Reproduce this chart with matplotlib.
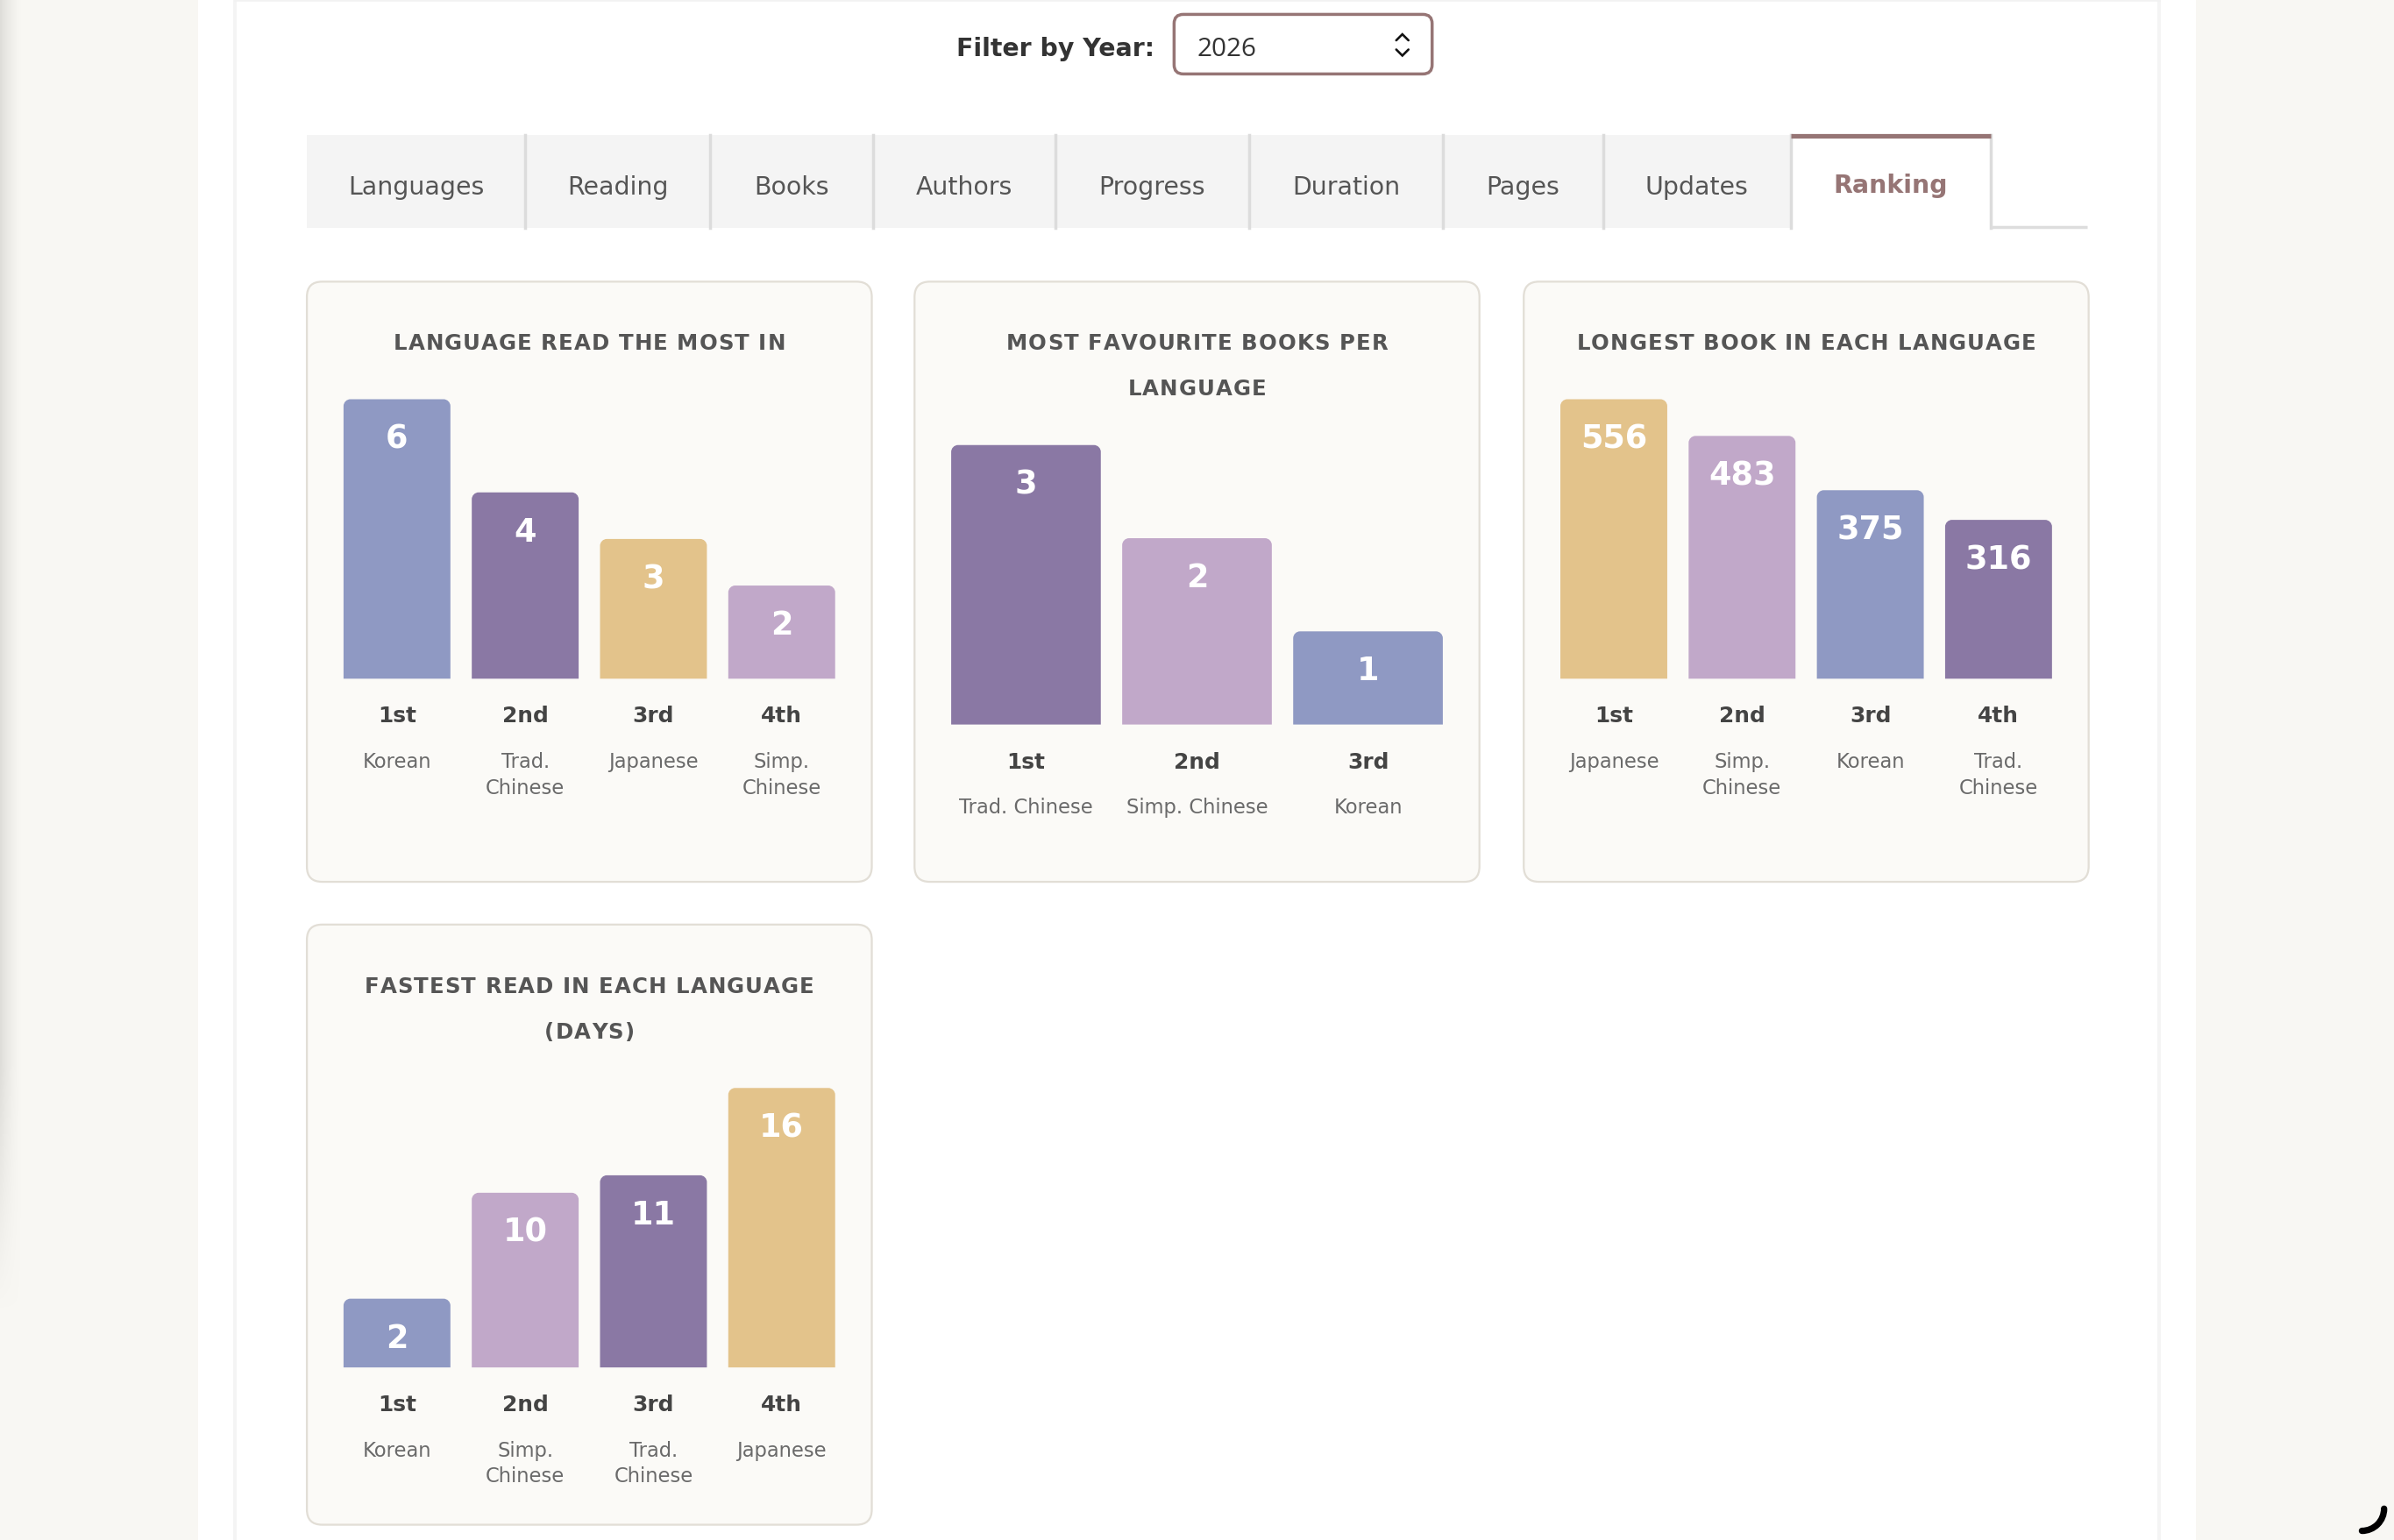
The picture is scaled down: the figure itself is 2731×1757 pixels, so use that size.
import textwrap
import numpy as np
import matplotlib
matplotlib.use("Agg")
import matplotlib.pyplot as plt
from matplotlib.patches import FancyBboxPatch, Rectangle, PathPatch, Arc
from matplotlib.path import Path
from matplotlib.font_manager import findfont, FontProperties

# ------------------------------------------------------------------ data
YEAR = "2026"
TABS = ["Languages", "Reading", "Books", "Authors", "Progress",
        "Duration", "Pages", "Updates", "Ranking"]
ACTIVE_TAB = "Ranking"
RANKS = ["1st", "2nd", "3rd", "4th"]

t1_title = "LANGUAGE READ THE MOST IN"
t1_langs = ["Korean", "Trad. Chinese", "Japanese", "Simp. Chinese"]
t1_values = [6, 4, 3, 2]

t2_title = "MOST FAVOURITE BOOKS PER LANGUAGE"
t2_langs = ["Trad. Chinese", "Simp. Chinese", "Korean"]
t2_values = [3, 2, 1]

t3_title = "LONGEST BOOK IN EACH LANGUAGE"
t3_langs = ["Japanese", "Simp. Chinese", "Korean", "Trad. Chinese"]
t3_values = [556, 483, 375, 316]

t4_title = "FASTEST READ IN EACH LANGUAGE (DAYS)"
t4_langs = ["Korean", "Simp. Chinese", "Trad. Chinese", "Japanese"]
t4_values = [2, 10, 11, 16]

LANG_COLORS = {"Korean": "#8f99c3", "Trad. Chinese": "#8a78a4",
               "Japanese": "#e3c38b", "Simp. Chinese": "#c1a8c9"}

# ------------------------------------------------------------------ layout
W, H = 1568.0, 1009.0            # layout units (screen px)
OUT_W, OUT_H = 2731, 1758
K = OUT_W / W


def pt(px):
    return px * K * 72.0 / 100.0


PAGE_BG = "#f8f7f3"
PANEL_BG = "#fbfaf7"
PANEL_EDGE = "#e2ded6"
MAUVE = "#967575"

fig = plt.figure(figsize=(OUT_W / 100, OUT_H / 100), dpi=100)
fig.patch.set_facecolor(PAGE_BG)
bg = fig.add_axes([0, 0, 1, 1])
bg.set_xlim(0, W)
bg.set_ylim(H, 0)
bg.axis("off")
bg.set_zorder(0)


def text_c(ax, x, yc, s, fs, cap=0.365, **kw):
    """place text so its cap-height centre sits at yc (layout units, y down)"""
    ax.text(x, yc + cap * fs, s, fontsize=pt(fs), va="baseline", **kw)


# letter-spaced bold text (titles)
try:
    from matplotlib.ft2font import FT2Font
    _bold_font = FT2Font(findfont(FontProperties(family="DejaVu Sans",
                                                 weight="bold")))
except Exception:
    _bold_font = None


def spaced_text(ax, xc, yc, s, fs, spacing, **kw):
    adv = None
    if _bold_font is not None:
        try:
            _bold_font.set_size(fs, 72)
            adv = [_bold_font.load_char(ord(c)).linearHoriAdvance / 65536.0
                   for c in s]
        except Exception:
            adv = None
    if adv is None:
        text_c(ax, xc, yc, s, fs * 1.05, ha="center", fontweight="bold", **kw)
        return
    total = sum(adv) + spacing * (len(s) - 1)
    x = xc - total / 2
    for c, a in zip(s, adv):
        if c != " ":
            text_c(ax, x, yc, c, fs, ha="left", fontweight="bold", **kw)
        x += a + spacing


# page structure
bg.add_patch(Rectangle((130, 0), 1308, H, fc="white", ec="none", zorder=0))
gx = np.linspace(0, 1, 48)
gy = np.clip((860 - np.linspace(0, 860, 200)) / 160, 0, 1)
shade = (1 - gx)[None, :] ** 1.5 * gy[:, None]
rgba = np.zeros((200, 48, 4))
rgba[..., :3] = np.array([0.86, 0.855, 0.84])
rgba[..., 3] = shade * 0.9
bg.imshow(rgba, extent=(0, 14, 860, 0), aspect="auto", zorder=0.5,
          interpolation="bilinear")
bg.set_xlim(0, W)
bg.set_ylim(H, 0)
for xv in (154, 1414):
    bg.plot([xv, xv], [0, H], color="#f4f4f4", lw=pt(2.2), zorder=0.6)
bg.plot([154, 1414], [0.6, 0.6], color="#f2f2f2", lw=pt(1.5), zorder=0.6)

# filter
text_c(bg, 756, 30.5, "Filter by Year:", 16.3, ha="right", color="#333333",
       fontweight="bold")
bg.add_patch(FancyBboxPatch((769, 10), 169, 39,
                            boxstyle="round,pad=0,rounding_size=6",
                            fc="white", ec=MAUVE, lw=pt(2), zorder=2))
text_c(bg, 784, 30.5, YEAR, 17, cap=0.36, ha="left", color="#333333",
       family="Open Sans", zorder=3)
bg.plot([914.5, 918.5, 922.5], [27, 23, 27], color="#111111", lw=pt(1.5),
        solid_capstyle="round", solid_joinstyle="miter", zorder=3)
bg.plot([914.5, 918.5, 922.5], [33, 37, 33], color="#111111", lw=pt(1.5),
        solid_capstyle="round", solid_joinstyle="miter", zorder=3)

# tabs
TAB_EDGES = [201, 344, 465, 572, 691, 818, 945, 1050, 1173, 1304]
TAB_TOP, TAB_BOT = 89, 150
act = TABS.index(ACTIVE_TAB)
bg.add_patch(Rectangle((TAB_EDGES[0], TAB_TOP), TAB_EDGES[act] - TAB_EDGES[0],
                       TAB_BOT - TAB_TOP, fc="#f4f4f4", ec="none", zorder=1))
for e in TAB_EDGES[1:]:
    bg.plot([e, e], [TAB_TOP, TAB_BOT], color="#dcdcdc", lw=pt(2), zorder=1.5)
bg.plot([TAB_EDGES[act], TAB_EDGES[act + 1]], [89.5, 89.5], color=MAUVE,
        lw=pt(3), solid_capstyle="butt", zorder=2)
bg.plot([TAB_EDGES[-1], 1367], [149, 149], color="#dddddd", lw=pt(2),
        solid_capstyle="butt", zorder=1.5)
for i, name in enumerate(TABS):
    cx = (TAB_EDGES[i] + TAB_EDGES[i + 1]) / 2
    if name == ACTIVE_TAB:
        text_c(bg, cx, 120.5, name, 16.3, cap=0.36, ha="center", color=MAUVE,
               fontweight="bold", zorder=3)
    else:
        text_c(bg, cx, 121.5, name, 16.3, cap=0.36, ha="center",
               color="#555555", zorder=3)

# panels
PANEL_W, PANEL_H = 370, 393
PAD = 24
GAP = 14
MAX_BAR = 183
MIN_FRAC = 0.246
panels = [
    (201, 185, t1_title, t1_langs, t1_values),
    (599, 185, t2_title, t2_langs, t2_values),
    (998, 185, t3_title, t3_langs, t3_values),
    (201, 606, t4_title, t4_langs, t4_values),
]


def rounded_top(x0, w, h, rx, ry):
    k = 0.5523
    verts = [(x0, 0), (x0, h - ry), (x0, h - ry + k * ry), (x0 + rx - k * rx, h),
             (x0 + rx, h), (x0 + w - rx, h), (x0 + w - rx + k * rx, h),
             (x0 + w, h - ry + k * ry), (x0 + w, h - ry), (x0 + w, 0), (x0, 0)]
    codes = [Path.MOVETO, Path.LINETO, Path.CURVE4, Path.CURVE4, Path.CURVE4,
             Path.LINETO, Path.CURVE4, Path.CURVE4, Path.CURVE4, Path.LINETO,
             Path.CLOSEPOLY]
    return Path(verts, codes)


for (px, py, title, langs, values) in panels:
    bg.add_patch(FancyBboxPatch((px, py), PANEL_W, PANEL_H,
                                boxstyle="round,pad=0,rounding_size=10",
                                fc=PANEL_BG, ec=PANEL_EDGE, lw=pt(1.3),
                                zorder=1))
    lines = textwrap.wrap(title, 29)
    for li, ln in enumerate(lines):
        spaced_text(bg, px + PANEL_W / 2, py + 39 + 30 * li, ln, 14.0, 0.62,
                    color="#555555", zorder=3)
    baseline = py + 230 + 30 * len(lines)
    n = len(values)
    inner = PANEL_W - 2 * PAD
    pitch = (inner + GAP) / n
    bw = pitch - GAP
    ax = fig.add_axes([(px + PAD) / W, 1 - baseline / H, inner / W, MAX_BAR / H])
    ax.set_zorder(2)
    ax.patch.set_alpha(0)
    ax.axis("off")
    half = bw / pitch / 2
    ax.set_xlim(-half, n - 1 + half)
    vmax = max(values)
    ax.set_ylim(0, vmax)
    heights = np.maximum(np.array(values, float), MIN_FRAC * vmax)
    xs = np.arange(n)
    bars = ax.bar(xs, heights, width=bw / pitch,
                  color=[LANG_COLORS[l] for l in langs], linewidth=0)
    rx = 4.5 * (n - 1 + 2 * half) / inner
    ry = 4.5 * vmax / MAX_BAR
    for b in bars:
        b.set_visible(False)
        ax.add_patch(PathPatch(rounded_top(b.get_x(), b.get_width(),
                                           b.get_height(), rx, ry),
                               fc=b.get_facecolor(), ec="none", clip_on=False))
    chars = int(pitch / 7.2)
    for i, (v, h, lang) in enumerate(zip(values, heights, langs)):
        ax.annotate(str(v), xy=(i, h), xytext=(0, -pt(24 + 0.365 * 21)),
                    textcoords="offset points", ha="center", va="baseline",
                    color="white", fontweight="bold", fontsize=pt(21),
                    annotation_clip=False)
        ax.annotate(RANKS[i], xy=(i, 0), xycoords=("data", "axes fraction"),
                    xytext=(0, -pt(23 + 0.365 * 14.3)),
                    textcoords="offset points",
                    ha="center", va="baseline", color="#444444",
                    fontweight="bold", fontsize=pt(14.3), annotation_clip=False)
        for li, ln in enumerate(textwrap.wrap(lang, chars)):
            ax.annotate(ln, xy=(i, 0), xycoords=("data", "axes fraction"),
                        xytext=(0, -pt(53 + 17 * li + 0.365 * 13)),
                        textcoords="offset points", ha="center",
                        va="baseline", color="#6a6a6a", fontsize=pt(13),
                        annotation_clip=False)

# loading spinner in the corner
bg.add_patch(Arc((1547, 988.5), 29, 29, theta1=0, theta2=90, color="black",
                 lw=pt(4.2), capstyle="round", zorder=5))

fig.savefig("out.png", dpi=100, facecolor=fig.get_facecolor())
